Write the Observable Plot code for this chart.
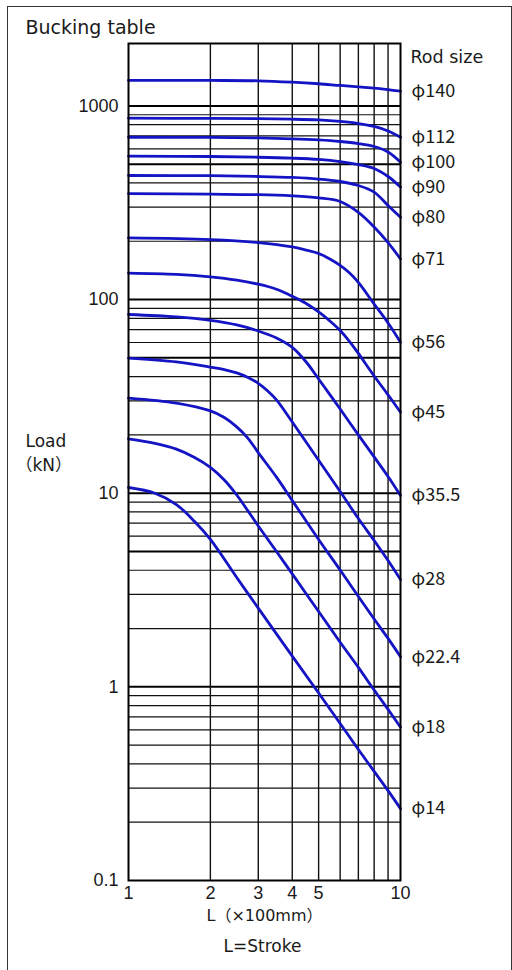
<!DOCTYPE html>
<html><head><meta charset="utf-8">
<script src="https://cdn.jsdelivr.net/npm/d3@7"></script>
<script src="https://cdn.jsdelivr.net/npm/@observablehq/plot@0.6"></script>
<style>
html,body{margin:0;padding:0;background:#fff;}
#wrap{position:relative;width:512px;height:970px;overflow:hidden;}
#wrap svg{position:absolute;left:0;top:0;}
#border{position:absolute;left:7px;top:6px;width:505px;height:990px;border:1px solid #333;box-sizing:border-box;pointer-events:none;}
</style></head><body><div id="wrap"><div id="border"></div></div>
<script>
// Rod sizes (labels on the right)
const rodSizes = ["φ140","φ112","φ100","φ90","φ80","φ71","φ56","φ45","φ35.5","φ28","φ22.4","φ18","φ14"];

// Stroke L (x100 mm) and buckling load (kN) for each rod size
const L140 = [1,2,3,4,5,6,7,8,9,10];
const P140 = [1353,1353,1348,1326,1301,1275,1255,1234,1212,1191];
const L112 = [1,2,3,4,5,6,7,8,9,10];
const P112 = [864,862,859,854,846,831,811,783,742,689];
const L100 = [1,2,3,4,5,6,7,8,9,10];
const P100 = [689,687,683,676,667,655,639,617,578,512];
const L90 = [1,2,3,4,5,6,7,8,9,10];
const P90 = [550,548,543,537,529,516,498,475,432,381];
const L80 = [1,2,3,4,5,6,7,8,9,10];
const P80 = [437,436,432,427,419,407,388,359,306,266];
const L71 = [1,2,3,4,5,6,7,8,9,10];
const P71 = [352,350,348,343,335,321,282,237,197,162];
const L56 = [1,2,3,4,4.5,5,5.5,6,6.5,7,8,9,10];
const P56 = [208,204,197,187,180,173,162,150,137,122.5,94.8,75.7,60.2];
const L45 = [1,1.5,2,2.5,3,3.5,4,4.5,5,5.5,6,6.5,7,8,9,10];
const P45 = [137,135,131,126,120,113,104,95.4,86.3,77.5,69.2,60.7,52.7,40.3,32.2,26.2];
const L35 = [1,1.5,2,2.5,3,3.5,4,4.5,5,5.5,6,7,8,9,10];
const P35 = [83.7,81.3,78,73.9,68.8,63.3,56.6,47.6,38.9,32.3,27.2,20,15.4,12.2,9.73];
const L28 = [1,1.5,2,2.25,2.5,2.75,3,3.25,3.5,4,5,6,7,8,9,10];
const P28 = [49.8,47.6,44.8,43.5,41.8,39.6,36.9,33.7,30.3,23.3,14.8,10.2,7.4,5.7,4.49,3.58];
const L22 = [1,1.5,2,2.25,2.5,2.75,3,3.5,4,5,6,7,8,9,10];
const P22 = [31,29.2,26.6,24.6,22,19.2,16.2,12.1,9.17,5.77,4.01,2.93,2.24,1.78,1.43];
const L18 = [1,1.25,1.5,1.75,2,2.25,2.5,3,3.5,4,5,6,7,8,9,10];
const P18 = [19.1,18.1,16.9,15.3,13.6,11.7,9.79,6.77,5.0,3.83,2.45,1.7,1.26,0.963,0.765,0.619];
const L14 = [1,1.25,1.5,1.75,2,2.5,3,4,5,6,7,8,9,10];
const P14 = [10.7,10,8.74,7.14,5.77,3.67,2.55,1.44,0.929,0.647,0.475,0.366,0.291,0.235];

// Axis ticks and grid values
const xTicks = [1,2,3,4,5,10];
const xGrid = [2,3,4,5,6,7,8,9];
const yTicks = [0.1,1,5,10,50,100,500,1000];
const yMajor = [1,5,10,50,100,500,1000];
const yMinor = [0.2,0.3,0.4,0.5,0.6,0.7,0.8,0.9,2,3,4,6,7,8,9,20,30,40,60,70,80,90,200,300,400,600,700,800,900];

const seriesL = [L140,L112,L100,L90,L80,L71,L56,L45,L35,L28,L22,L18,L14];
const seriesP = [P140,P112,P100,P90,P80,P71,P56,P45,P35,P28,P22,P18,P14];

const rows = rodSizes.flatMap((size, k) => seriesL[k].map((L, i) => ({size, L, P: seriesP[k][i]})));
const ends = rodSizes.map((size, k) => ({size, L: seriesL[k].at(-1), P: seriesP[k].at(-1)}));

const words = "'DejaVu Sans', 'Noto Sans CJK JP', sans-serif";
const nums = "'Liberation Sans', Arial, sans-serif";
const labs = "'Noto Sans CJK JP', 'Liberation Sans', sans-serif";

const chart = Plot.plot({
  width: 512,
  height: 970,
  marginLeft: 128,
  marginRight: 112,
  marginTop: 43,
  marginBottom: 90,
  style: {fontFamily: nums, fontSize: "18px", color: "#1a1a1a", background: "transparent", overflow: "visible"},
  x: {type: "log", domain: [1, 10]},
  y: {type: "log", domain: [0.1, 2100]},
  marks: [
    Plot.ruleY(yMinor, {stroke: "#111", strokeWidth: 1.2}),
    Plot.ruleY(yMajor, {stroke: "#000", strokeWidth: 2}),
    Plot.ruleX(xGrid, {stroke: "#111", strokeWidth: 1.4}),
    Plot.line(rows, {x: "L", y: "P", z: "size", stroke: "#1414c4", strokeWidth: 2.8, curve: "catmull-rom"}),
    Plot.frame({stroke: "#000", strokeWidth: 2}),
    Plot.axisY({ticks: yTicks, tickSize: 0, tickPadding: 10, tickFormat: d => String(d), label: null, fontSize: 18}),
    Plot.axisX({ticks: xTicks, tickSize: 0, tickPadding: 6, tickFormat: d => String(d), label: null, fontSize: 18}),
    Plot.text(ends, {x: "L", y: "P", text: "size", dx: 11, textAnchor: "start", fontSize: 18, fill: "#1a1a1a", fontFamily: labs}),
    Plot.text(["Bucking table"], {frameAnchor: "top-left", dx: -103, dy: -10, lineAnchor: "bottom", textAnchor: "start", fontSize: 19, fontFamily: words, fill: "#1a1a1a"}),
    Plot.text(["Rod size"], {frameAnchor: "top-right", dx: 10, dy: 19, lineAnchor: "bottom", textAnchor: "start", fontSize: 17.5, fontFamily: words, fill: "#1a1a1a"}),
    Plot.text(["Load"], {frameAnchor: "top-left", dx: -103, dy: 403, lineAnchor: "bottom", textAnchor: "start", fontSize: 17, fontFamily: words, fill: "#1a1a1a"}),
    Plot.text(["（kN）"], {frameAnchor: "top-left", dx: -113, dy: 427, lineAnchor: "bottom", textAnchor: "start", fontSize: 17, fontFamily: words, fill: "#1a1a1a"}),
    Plot.text(["L（×100mm）"], {frameAnchor: "bottom", dx: 0, dy: 40, lineAnchor: "bottom", textAnchor: "middle", fontSize: 16, fontFamily: words, fill: "#1a1a1a"}),
    Plot.text(["L=Stroke"], {frameAnchor: "bottom", dx: -2, dy: 71, lineAnchor: "bottom", textAnchor: "middle", fontSize: 17, fontFamily: words, fill: "#1a1a1a"})
  ]
});
document.getElementById("wrap").prepend(chart);
</script></body></html>
